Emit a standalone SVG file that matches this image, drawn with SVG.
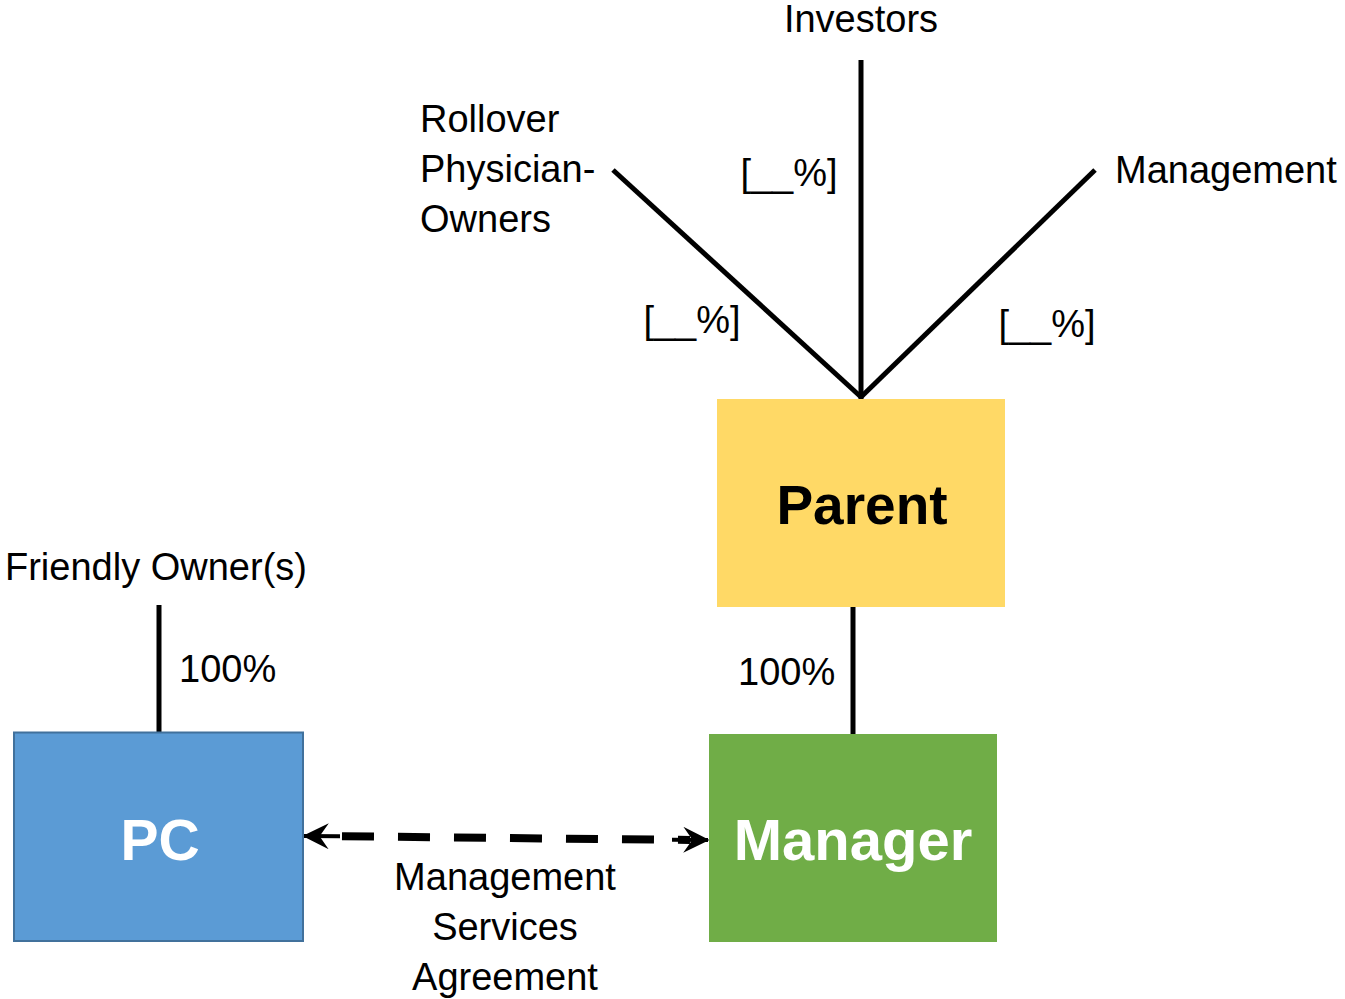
<svg xmlns="http://www.w3.org/2000/svg" width="1345" height="999" viewBox="0 0 1345 999">
  <style>
    text { font-family: "Liberation Sans", Arial, sans-serif; fill: #000; }
    .lbl { font-size: 38px; }
    .mid { text-anchor: middle; }
    .title { font-weight: bold; text-anchor: middle; }
    .link { stroke: #000; stroke-width: 5; fill: none; }
  </style>
  <defs>
    <marker id="arrow" viewBox="0 0 10 10" refX="9.5" refY="5" markerWidth="6.5" markerHeight="6.5" orient="auto-start-reverse" markerUnits="strokeWidth">
      <path d="M0,0 L10,5 L0,10 L3.5,5 Z" fill="#000"/>
    </marker>
  </defs>
  <rect width="1345" height="999" fill="#fff"/>

  <!-- connectors -->
  <g id="connectors">
    <line class="link" x1="861" y1="60" x2="861" y2="399"/>
    <line class="link" x1="613" y1="170" x2="861" y2="397"/>
    <line class="link" x1="1095" y1="170" x2="861" y2="397"/>
    <line class="link" x1="853" y1="607" x2="853" y2="734"/>
    <line class="link" x1="159" y1="605" x2="159" y2="732"/>
    <line x1="318" y1="836" x2="690" y2="840" stroke="#000" stroke-width="8" stroke-dasharray="32 24" stroke-dashoffset="-24" fill="none"/>
    <line x1="340" y1="836.3" x2="304" y2="836" stroke="#000" stroke-width="4" marker-end="url(#arrow)"/>
    <line x1="672" y1="839.7" x2="708" y2="840" stroke="#000" stroke-width="4" marker-end="url(#arrow)"/>
    <text class="lbl mid" x="692" y="333">[__%]</text>
    <text class="lbl mid" x="789" y="186">[__%]</text>
    <text class="lbl mid" x="1047" y="337">[__%]</text>
    <text class="lbl" x="179" y="682">100%</text>
    <text class="lbl" x="738" y="685">100%</text>
    <text class="lbl mid" x="505" y="890">Management</text>
    <text class="lbl mid" x="505" y="940">Services</text>
    <text class="lbl mid" x="505" y="990">Agreement</text>
  </g>

  <g id="investors">
    <text class="lbl mid" x="861" y="32">Investors</text>
  </g>
  <g id="rollover">
    <text class="lbl" x="420" y="132">Rollover</text>
    <text class="lbl" x="420" y="182">Physician-</text>
    <text class="lbl" x="420" y="232">Owners</text>
  </g>
  <g id="management">
    <text class="lbl" x="1115" y="183">Management</text>
  </g>
  <g id="friendly-owners">
    <text class="lbl" x="5" y="580">Friendly Owner(s)</text>
  </g>

  <g id="parent">
    <rect x="717" y="399" width="288" height="208" fill="#FFD966"/>
    <text class="title" x="862" y="524" font-size="55">Parent</text>
  </g>
  <g id="pc">
    <rect x="14" y="732.5" width="289" height="208.5" fill="#5B9BD5" stroke="#41719C" stroke-width="2"/>
    <text class="title" x="160" y="860" font-size="57" style="fill:#fff">PC</text>
  </g>
  <g id="manager">
    <rect x="709" y="734" width="288" height="208" fill="#70AD47"/>
    <text class="title" x="853" y="860" font-size="58" style="fill:#fff">Manager</text>
  </g>
</svg>
